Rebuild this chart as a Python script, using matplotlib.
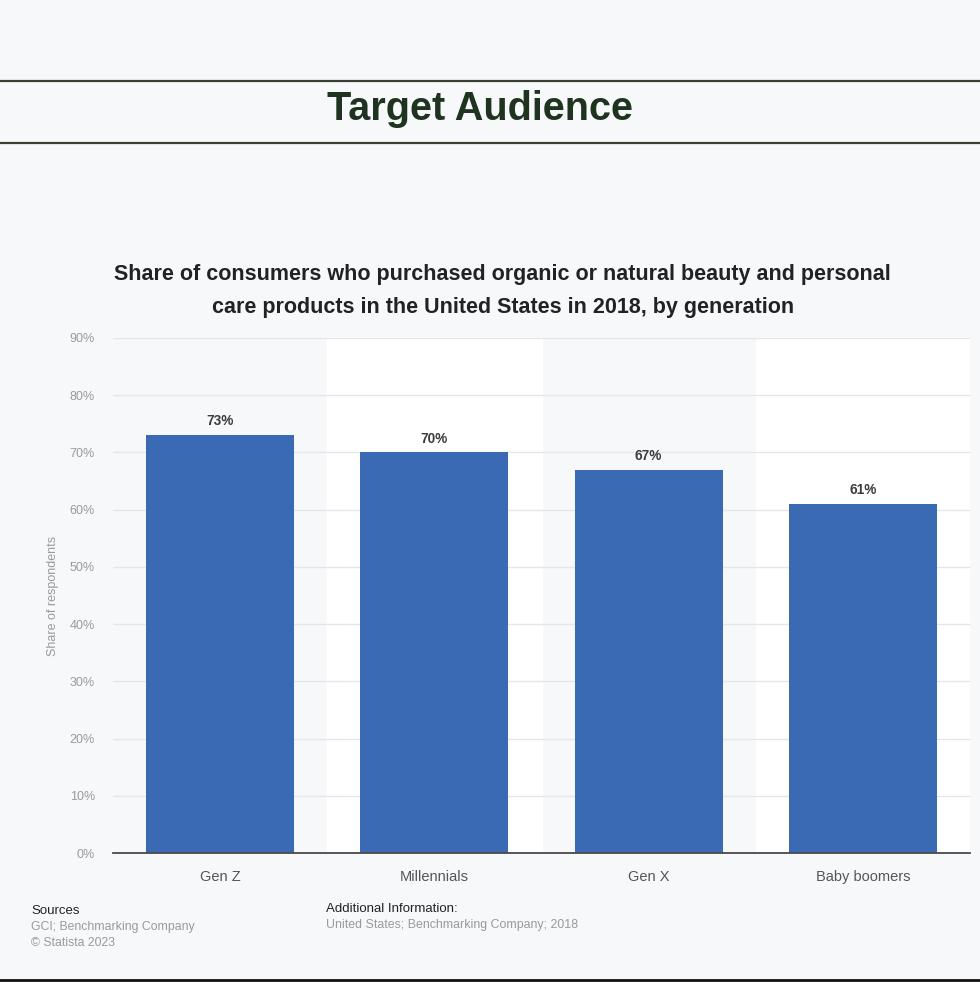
import matplotlib.pyplot as plt
from matplotlib.lines import Line2D

generations = ['Gen Z', 'Millennials', 'Gen X', 'Baby boomers']
shares = [73, 70, 67, 61]
y_ticks = [0, 10, 20, 30, 40, 50, 60, 70, 80, 90]

plt.rcParams['font.family'] = ['Liberation Sans', 'DejaVu Sans']

bg = '#f7f8fa'
fig = plt.figure(figsize=(9.8, 9.82), dpi=100, facecolor=bg)

# header band with two rules
fig.add_artist(Line2D([0, 1], [1 - 81/982, 1 - 81/982], color='#3b4034', lw=1.6))
fig.add_artist(Line2D([0, 1], [1 - 143/982, 1 - 143/982], color='#3b4034', lw=1.6))
fig.text(0.490, 1 - 109/982, 'Target Audience', ha='center', va='center',
         fontsize=28.5, fontweight='bold', color='#1f3320')
fig.add_artist(Line2D([0, 1], [1 - 980/982, 1 - 980/982], color='#111111', lw=2))

fig.text(0.513, 1 - 291/982,
         'Share of consumers who purchased organic or natural beauty and personal\n'
         'care products in the United States in 2018, by generation',
         ha='center', va='center', fontsize=15.5, fontweight='bold',
         color='#222222', linespacing=1.72)

ax = fig.add_axes([113/980, 1 - 853/982, 857/980, 515/982])
ax.set_facecolor(bg)
ax.set_xlim(-0.5, 3.5)
ax.set_ylim(0, 90)

# alternating white bands behind every second category
for i in range(len(generations)):
    if i % 2 == 1:
        ax.axvspan(i - 0.5, i + 0.5, color='white', zorder=0)

ax.set_yticks(y_ticks)
ax.set_yticklabels([f'{t}%' for t in y_ticks])
ax.yaxis.grid(True, color='#e4e6e9', lw=1)
ax.set_axisbelow(True)

bars = ax.bar(range(len(generations)), shares, width=0.69, color='#3a6ab4', zorder=2)
for b, v in zip(bars, shares):
    ax.text(b.get_x() + b.get_width() / 2, v + 1.2, f'{v}%', ha='center', va='bottom',
            fontsize=9.8, fontweight='bold', color='#3c3c3c')

ax.set_xticks(range(len(generations)))
ax.set_xticklabels(generations, fontsize=10.5, color='#555555')
ax.tick_params(axis='x', length=0, pad=12)
ax.tick_params(axis='y', length=0, pad=13, labelsize=9, labelcolor='#9a9a9a')
for s in ['top', 'right', 'left']:
    ax.spines[s].set_visible(False)
ax.spines['bottom'].set_color('#4a4a4a')
ax.spines['bottom'].set_linewidth(1.3)
ax.set_ylabel('Share of respondents', fontsize=9, color='#9a9a9a', labelpad=8)

fig.text(31/980, 1 - 911/982, 'Sources', fontsize=9.5, color='#222222', va='center')
fig.text(31/980, 1 - 927/982, 'GCI; Benchmarking Company', fontsize=8.8, color='#9a9a9a', va='center')
fig.text(31/980, 1 - 943/982, '© Statista 2023', fontsize=8.8, color='#9a9a9a', va='center')
fig.text(326/980, 1 - 909/982, 'Additional Information:', fontsize=9.5, color='#222222', va='center')
fig.text(326/980, 1 - 925/982, 'United States; Benchmarking Company; 2018', fontsize=8.9,
         color='#9a9a9a', va='center')

fig.savefig('out.png', dpi=100, facecolor=bg)
